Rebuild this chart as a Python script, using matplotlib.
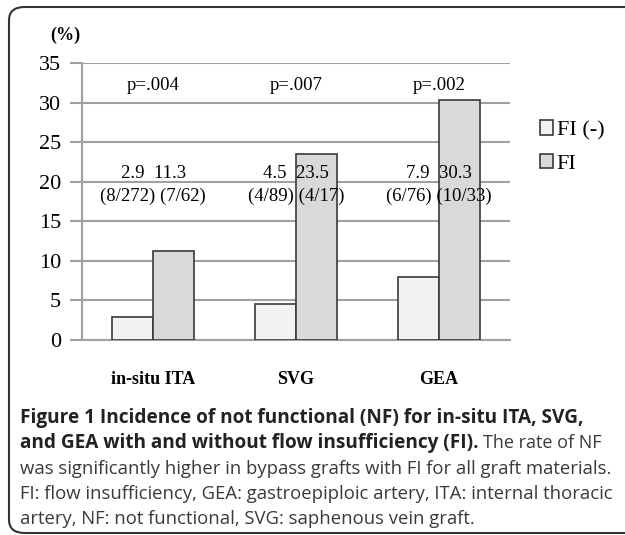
import matplotlib.pyplot as plt
import numpy as np
from matplotlib.patches import FancyBboxPatch

# data
grafts = ["in-situ ITA", "SVG", "GEA"]
nf_no_fi = [2.9, 4.5, 7.9]
nf_fi = [11.3, 23.5, 30.3]
counts_no_fi = ["8/272", "4/89", "6/76"]
counts_fi = ["7/62", "4/17", "10/33"]
p_values = ["p=.004", "p=.007", "p=.002"]
series_names = ["FI (-)", "FI"]

serif = "Liberation Serif"
W, H = 625, 535
fig = plt.figure(figsize=(W / 100, H / 100), dpi=100)
ax = fig.add_axes([82 / W, 1 - 340 / H, (510 - 82) / W, (340 - 63) / H])

x = np.arange(len(grafts))
bw = 0.2875
b1 = ax.bar(x - bw / 2, nf_no_fi, bw, color="#f2f2f2", edgecolor="#3a3a3a", lw=1.2, zorder=3)
b2 = ax.bar(x + bw / 2, nf_fi, bw, color="#d9d9d9", edgecolor="#3a3a3a", lw=1.2, zorder=3)

for i in range(len(grafts)):
    ax.text(x[i], 32.2, p_values[i], ha="center", va="center", family=serif, fontsize=13.5)
    ax.text(x[i], 21.1, f"{nf_no_fi[i]}  {nf_fi[i]}", ha="center", va="center",
            family=serif, fontsize=13.5, zorder=4)
    ax.text(x[i], 18.1, f"({counts_no_fi[i]}) ({counts_fi[i]})", ha="center", va="center",
            family=serif, fontsize=13.5, zorder=4)

ax.set_xlim(-0.5, 2.5)
ax.set_ylim(0, 35)
ax.set_yticks(range(0, 36, 5))
ax.set_xticks(x)
ax.set_xticklabels(grafts, family=serif, fontsize=13, fontweight="bold")
ax.tick_params(axis="x", length=0, pad=22)
ax.tick_params(axis="y", length=9, width=1.5, color="#a0a0a0", labelsize=16, pad=6)
for lab in ax.get_yticklabels():
    lab.set_family(serif)
ax.grid(axis="y", color="#a0a0a0", lw=1.5, zorder=0)
ax.spines[["top", "right"]].set_visible(False)
ax.spines["left"].set_color("#a0a0a0")
ax.spines["left"].set_linewidth(1.5)
ax.spines["bottom"].set_color("#a0a0a0")
ax.spines["bottom"].set_linewidth(1.5)

fig.text(50 / W, 1 - 35 / H, "(%)", family=serif, fontsize=13, fontweight="bold", va="center")

ax.legend([b1, b2], series_names, loc="center left", bbox_to_anchor=(540 / W, 1 - 147 / H),
          bbox_transform=fig.transFigure, frameon=False, prop={"family": serif, "size": 16},
          handlelength=0.6, handleheight=0.6, handletextpad=0.15, labelspacing=0.6,
          borderpad=0, borderaxespad=0)

# border
border = FancyBboxPatch((9 / W, 1 - 533 / H), 700 / W, (533 - 7) / H,
                        boxstyle="round,pad=0,rounding_size=0.025", transform=fig.transFigure,
                        fill=False, edgecolor="#333333", lw=1.5)
fig.patches.append(border)

# caption
cap = "Open Sans"
fs = 13.3
fsb = 13.7
col = "#3a3a3a"
fig.text(20 / W, 1 - 418 / H, "Figure 1 Incidence of not functional (NF) for in-situ ITA, SVG,",
         family=cap, fontsize=fsb, fontweight="bold", va="center", color="#222222")
t = fig.text(20 / W, 1 - 443 / H, "and GEA with and without flow insufficiency (FI).",
             family=cap, fontsize=fsb, fontweight="bold", va="center", color="#222222")
fig.canvas.draw()
bb = t.get_window_extent()
fig.text(bb.x1 / W + 4 / W, 1 - 443 / H, "The rate of NF", family=cap, fontsize=13.0,
         va="center", color=col)
fig.text(20 / W, 1 - 469 / H, "was significantly higher in bypass grafts with FI for all graft materials.",
         family=cap, fontsize=fs, va="center", color=col)
fig.text(20 / W, 1 - 494 / H, "FI: flow insufficiency, GEA: gastroepiploic artery, ITA: internal thoracic",
         family=cap, fontsize=fs, va="center", color=col)
fig.text(20 / W, 1 - 519 / H, "artery, NF: not functional, SVG: saphenous vein graft.",
         family=cap, fontsize=fs, va="center", color=col)

fig.savefig("out.png", dpi=100)
